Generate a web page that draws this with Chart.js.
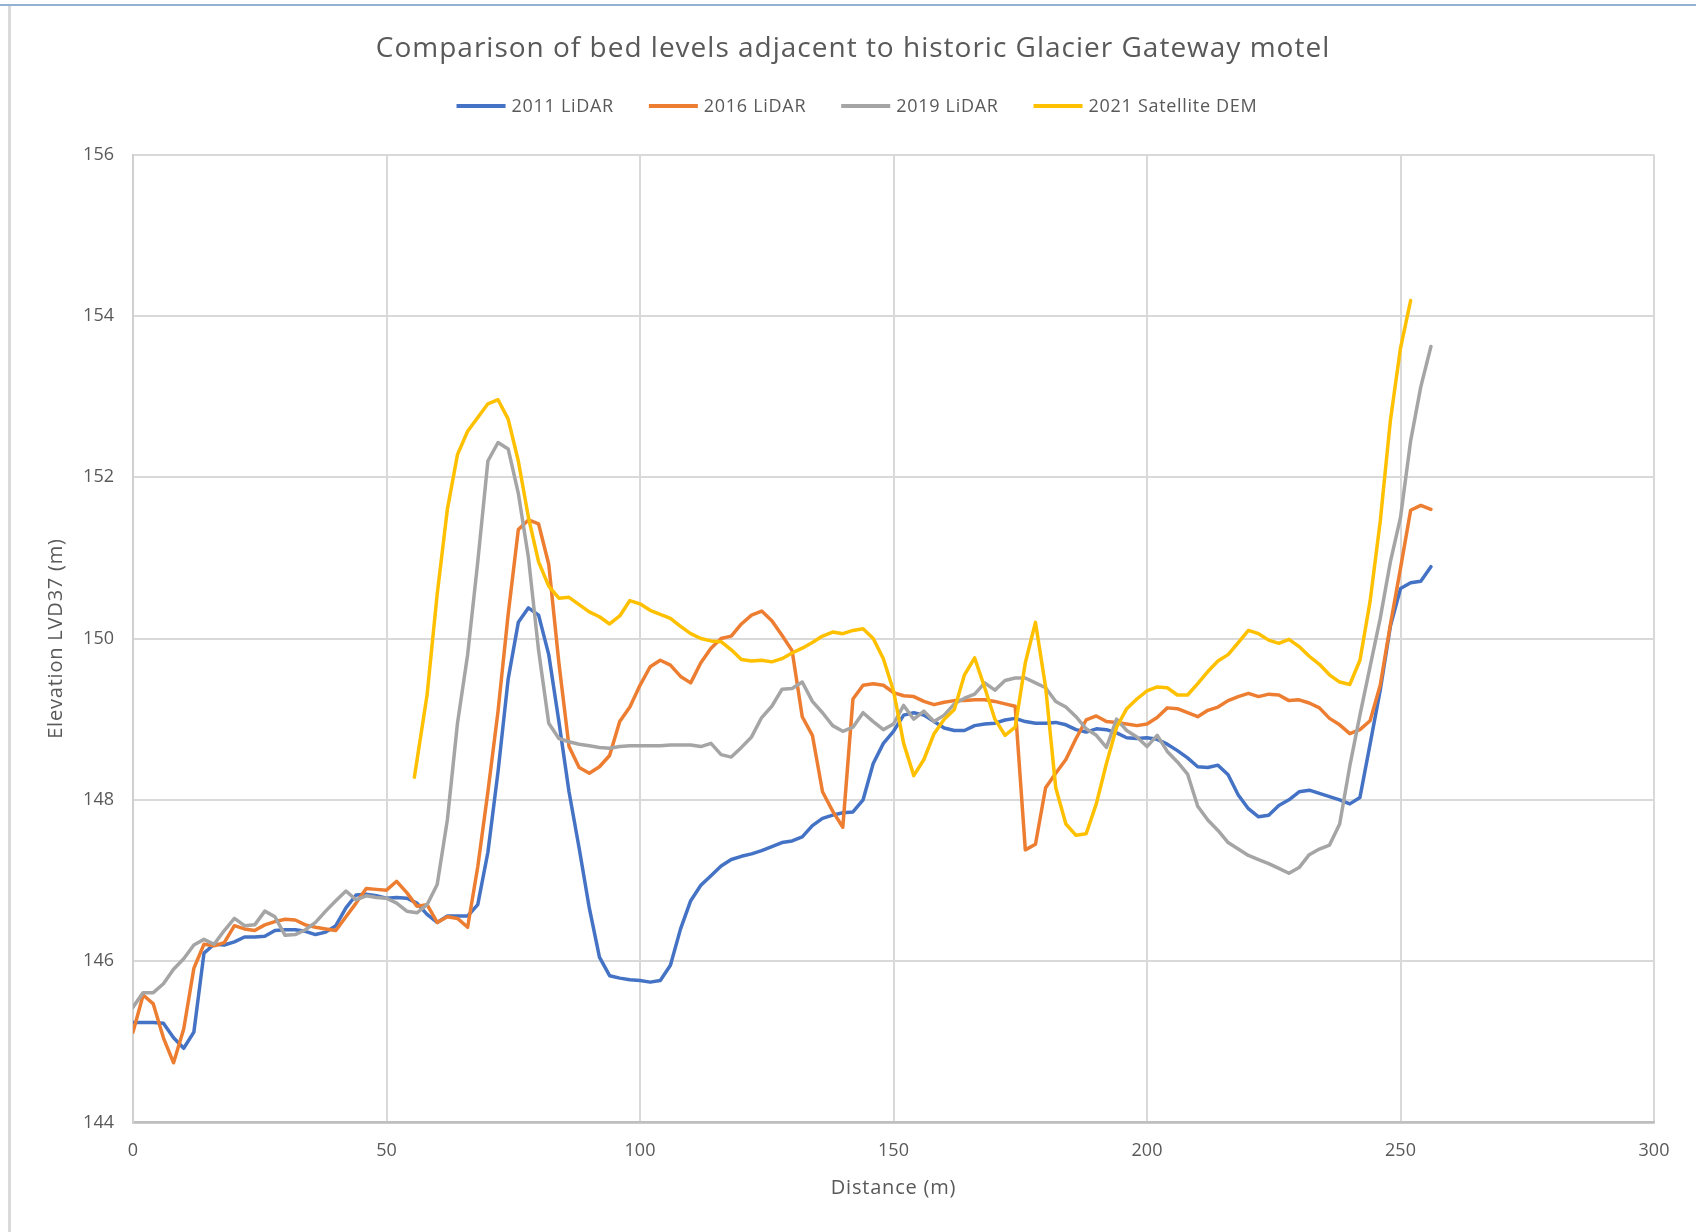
<!DOCTYPE html>
<html>
<head>
<meta charset="utf-8">
<title>Bed levels – Glacier Gateway motel</title>
<script src="https://cdn.jsdelivr.net/npm/chart.js@4.4.1/dist/chart.umd.min.js"></script>
<style>
  html, body { margin: 0; padding: 0; background: #ffffff; }
  body { width: 1696px; height: 1232px; position: relative; overflow: hidden; }
  #chart { position: absolute; left: 0; top: 0; }
  .frame-top { position: absolute; left: 0; top: 4px; width: 1696px; height: 2px; background: #93b1d2; }
  .frame-left { position: absolute; left: 8px; top: 6px; width: 3px; height: 1226px; background: #dadada; }
</style>
</head>
<body>
<canvas id="chart" width="1696" height="1232"></canvas>
<div class="frame-top"></div>
<div class="frame-left"></div>
<script>
// Chainage along the surveyed cross-section (m)
const lidarDistance = [
  0, 2, 4, 6, 8, 10, 12, 14, 16, 18, 20, 22, 24, 26, 28, 30, 32, 34, 36, 38,
  40, 42, 44, 46, 48, 50, 52, 54, 56, 58, 60, 62, 64, 66, 68, 70, 72, 74, 76, 78,
  80, 82, 84, 86, 88, 90, 92, 94, 96, 98, 100, 102, 104, 106, 108, 110, 112, 114, 116, 118,
  120, 122, 124, 126, 128, 130, 132, 134, 136, 138, 140, 142, 144, 146, 148, 150, 152, 154, 156, 158,
  160, 162, 164, 166, 168, 170, 172, 174, 176, 178, 180, 182, 184, 186, 188, 190, 192, 194, 196, 198,
  200, 202, 204, 206, 208, 210, 212, 214, 216, 218, 220, 222, 224, 226, 228, 230, 232, 234, 236, 238,
  240, 242, 244, 246, 248, 250, 252, 254, 256
];

const demDistance = [
  55.5, 58, 60, 62, 64, 66, 68, 70, 72, 74, 76, 78,
  80, 82, 84, 86, 88, 90, 92, 94, 96, 98, 100, 102, 104, 106, 108, 110, 112, 114, 116, 118,
  120, 122, 124, 126, 128, 130, 132, 134, 136, 138, 140, 142, 144, 146, 148, 150, 152, 154, 156, 158,
  160, 162, 164, 166, 168, 170, 172, 174, 176, 178, 180, 182, 184, 186, 188, 190, 192, 194, 196, 198,
  200, 202, 204, 206, 208, 210, 212, 214, 216, 218, 220, 222, 224, 226, 228, 230, 232, 234, 236, 238,
  240, 242, 244, 246, 248, 250, 252
];

// Bed elevation, LVD37 (m)
const lidar2011 = [
  145.24, 145.24, 145.24, 145.23, 145.05, 144.92, 145.12, 146.10, 146.21, 146.20,
  146.24, 146.30, 146.30, 146.31, 146.38, 146.39, 146.39, 146.37, 146.33, 146.36,
  146.44, 146.66, 146.82, 146.83, 146.81, 146.78, 146.79, 146.78, 146.72, 146.58,
  146.48, 146.56, 146.56, 146.56, 146.70, 147.35, 148.35, 149.50, 150.20, 150.38,
  150.29, 149.80, 148.97, 148.10, 147.40, 146.66, 146.05, 145.82, 145.79, 145.77,
  145.76, 145.74, 145.76, 145.95, 146.40, 146.75, 146.94, 147.06, 147.18, 147.26,
  147.30, 147.33, 147.37, 147.42, 147.47, 147.49, 147.54, 147.68, 147.77, 147.81,
  147.84, 147.85, 148.00, 148.45, 148.70, 148.85, 149.05, 149.08, 149.05, 148.97,
  148.89, 148.86, 148.86, 148.92, 148.94, 148.95, 148.99, 149.01, 148.97, 148.95,
  148.95, 148.96, 148.93, 148.87, 148.84, 148.88, 148.87, 148.83, 148.77, 148.76,
  148.77, 148.75, 148.69, 148.61, 148.52, 148.41, 148.40, 148.43, 148.31, 148.06,
  147.89, 147.79, 147.81, 147.93, 148.00, 148.10, 148.12, 148.08, 148.04, 148.00,
  147.95, 148.03, 148.69, 149.36, 150.15, 150.62, 150.69, 150.71, 150.89
];

const lidar2016 = [
  145.12, 145.58, 145.47, 145.05, 144.74, 145.16, 145.91, 146.21, 146.19, 146.23,
  146.44, 146.40, 146.38, 146.45, 146.49, 146.52, 146.51, 146.45, 146.42, 146.40,
  146.38, 146.55, 146.72, 146.90, 146.89, 146.88, 146.99, 146.85, 146.68, 146.70,
  146.48, 146.55, 146.53, 146.42, 147.17, 148.10, 149.10, 150.30, 151.35, 151.47,
  151.42, 150.92, 149.70, 148.66, 148.40, 148.33, 148.41, 148.55, 148.97, 149.15,
  149.42, 149.65, 149.73, 149.67, 149.53, 149.45, 149.70, 149.88, 150.00, 150.03,
  150.18, 150.29, 150.34, 150.22, 150.04, 149.85, 149.03, 148.80, 148.10, 147.86,
  147.66, 149.25, 149.42, 149.44, 149.42, 149.33, 149.29, 149.28, 149.22, 149.18,
  149.21, 149.23, 149.23, 149.24, 149.24, 149.22, 149.19, 149.16, 147.38, 147.45,
  148.15, 148.33, 148.50, 148.76, 148.99, 149.04, 148.97, 148.96, 148.94, 148.92,
  148.94, 149.02, 149.14, 149.13, 149.08, 149.03, 149.11, 149.15, 149.23, 149.28,
  149.32, 149.28, 149.31, 149.30, 149.23, 149.24, 149.20, 149.14, 149.01, 148.93,
  148.82, 148.87, 148.98, 149.42, 150.17, 150.87, 151.59, 151.65, 151.60
];

const lidar2019 = [
  145.43, 145.61, 145.61, 145.72, 145.90, 146.03, 146.20, 146.27, 146.21, 146.38,
  146.53, 146.44, 146.45, 146.62, 146.55, 146.32, 146.33, 146.39, 146.48, 146.62,
  146.75, 146.87, 146.76, 146.81, 146.79, 146.78, 146.72, 146.62, 146.60, 146.70,
  146.95, 147.75, 148.95, 149.80, 150.95, 152.20, 152.43, 152.35, 151.80, 151.00,
  149.85, 148.95, 148.76, 148.72, 148.69, 148.67, 148.65, 148.64, 148.66, 148.67,
  148.67, 148.67, 148.67, 148.68, 148.68, 148.68, 148.66, 148.70, 148.56, 148.53,
  148.65, 148.78, 149.02, 149.16, 149.37, 149.38, 149.46, 149.22, 149.08, 148.92,
  148.85, 148.90, 149.08, 148.97, 148.87, 148.94, 149.17, 149.00, 149.10, 148.97,
  149.05, 149.19, 149.26, 149.31, 149.45, 149.36, 149.48, 149.51, 149.51, 149.45,
  149.39, 149.22, 149.15, 149.03, 148.88, 148.80, 148.65, 149.00, 148.86, 148.78,
  148.66, 148.80, 148.60, 148.47, 148.32, 147.92, 147.75, 147.62, 147.47, 147.39,
  147.31, 147.26, 147.21, 147.15, 147.09, 147.16, 147.32, 147.39, 147.44, 147.70,
  148.42, 149.05, 149.65, 150.25, 150.95, 151.50, 152.45, 153.12, 153.62
];

const dem2021 = [
  148.28, 149.30, 150.55, 151.60, 152.28, 152.57, 152.74, 152.91, 152.96, 152.72,
  152.20, 151.50, 150.95, 150.65, 150.50, 150.51, 150.42, 150.33, 150.27, 150.18,
  150.28, 150.47, 150.43, 150.35, 150.30, 150.25, 150.15, 150.06, 150.00, 149.97,
  149.96, 149.86, 149.74, 149.72, 149.73, 149.71, 149.75, 149.82, 149.88, 149.95,
  150.03, 150.08, 150.06, 150.10, 150.12, 150.00, 149.75, 149.35, 148.70, 148.30,
  148.50, 148.82, 149.00, 149.12, 149.55, 149.76, 149.39, 149.00, 148.80, 148.90,
  149.70, 150.20, 149.40, 148.15, 147.70, 147.56, 147.58, 147.95, 148.45, 148.90,
  149.13, 149.25, 149.35, 149.40, 149.39, 149.30, 149.30, 149.44, 149.59, 149.72,
  149.80, 149.95, 150.10, 150.06, 149.98, 149.94, 149.99, 149.90, 149.78, 149.68,
  149.55, 149.46, 149.43, 149.73, 150.46, 151.45, 152.70, 153.60, 154.19
];

const seriesNames = ['2011 LiDAR', '2016 LiDAR', '2019 LiDAR', '2021 Satellite DEM'];
const seriesColors = ['#4472c4', '#ed7d31', '#a5a5a5', '#ffc000'];

const xTicks = [0, 50, 100, 150, 200, 250, 300];
const yTicks = [144, 146, 148, 150, 152, 154, 156];

const chartTitle = 'Comparison of bed levels adjacent to historic Glacier Gateway motel';
const xTitle = 'Distance (m)';
const yTitle = 'Elevation LVD37 (m)';

const TEXT = '#595959';
const FONT = '"Open Sans", "DejaVu Sans", sans-serif';

function pairs(xs, ys) {
  return xs.map((x, i) => ({ x: x, y: ys[i] }));
}

const seriesData = [
  pairs(lidarDistance, lidar2011),
  pairs(lidarDistance, lidar2016),
  pairs(lidarDistance, lidar2019),
  pairs(demDistance, dem2021)
];

const datasets = seriesNames.map((name, i) => ({
  label: name,
  data: seriesData[i],
  borderColor: seriesColors[i],
  backgroundColor: seriesColors[i],
  borderWidth: 3.5,
  pointRadius: 0,
  pointHoverRadius: 0,
  tension: 0,
  borderJoinStyle: 'round',
  borderCapStyle: 'round',
  // later series are painted over earlier ones
  order: seriesNames.length - i
}));

// Title, legend and axis titles drawn at fixed positions around the plot
const chartTexts = {
  id: 'chartTexts',
  afterDraw(chart) {
    const ctx = chart.ctx;
    const area = chart.chartArea;
    ctx.save();
    ctx.fillStyle = TEXT;
    ctx.textBaseline = 'middle';

    // chart title
    ctx.font = '28px ' + FONT;
    ctx.letterSpacing = '1px';
    ctx.textAlign = 'center';
    ctx.fillText(chartTitle, 853, 49);

    // legend
    ctx.font = '18px ' + FONT;
    ctx.letterSpacing = '0.7px';
    ctx.textAlign = 'left';
    const sample = 49, gapText = 6, gapItem = 35, legendY = 106;
    const widths = chart.data.datasets.map(d => ctx.measureText(d.label).width);
    let total = 0;
    widths.forEach((w, i) => { total += sample + gapText + w + (i < widths.length - 1 ? gapItem : 0); });
    let x = 857 - total / 2;
    chart.data.datasets.forEach((d, i) => {
      ctx.fillStyle = d.borderColor;
      ctx.fillRect(x, legendY - 2, sample, 4);
      x += sample + gapText;
      ctx.fillStyle = TEXT;
      ctx.fillText(d.label, x, legendY + 1);
      x += widths[i] + gapItem;
    });

    // axis titles
    ctx.font = '20px ' + FONT;
    ctx.letterSpacing = '0.8px';
    ctx.textAlign = 'center';
    ctx.fillText(xTitle, (area.left + area.right) / 2, 1188);
    ctx.translate(56, (area.top + area.bottom) / 2);
    ctx.rotate(-Math.PI / 2);
    ctx.fillText(yTitle, 0, 0);
    ctx.restore();
  }
};

new Chart(document.getElementById('chart'), {
  type: 'line',
  data: { datasets: datasets },
  options: {
    responsive: false,
    animation: false,
    devicePixelRatio: 1,
    layout: { padding: { top: 154.5, left: 0, right: 42, bottom: 0 } },
    plugins: {
      legend: { display: false },
      title: { display: false },
      tooltip: { enabled: false }
    },
    scales: {
      x: {
        type: 'linear',
        min: xTicks[0],
        max: xTicks[xTicks.length - 1],
        afterFit(scale) { scale.height = 109.5; },
        afterBuildTicks(scale) { scale.ticks = xTicks.map(v => ({ value: v })); },
        ticks: { color: TEXT, font: { family: FONT, size: 18 }, padding: 18, maxRotation: 0 },
        grid: { color: '#d9d9d9', lineWidth: 2, drawTicks: false },
        border: { color: '#bfbfbf', width: 2.5 }
      },
      y: {
        type: 'linear',
        min: yTicks[0],
        max: yTicks[yTicks.length - 1],
        afterFit(scale) { scale.width = 133; },
        afterBuildTicks(scale) { scale.ticks = yTicks.map(v => ({ value: v })); },
        ticks: { color: TEXT, font: { family: FONT, size: 18 }, padding: 19 },
        grid: { color: '#d9d9d9', lineWidth: 2, drawTicks: false },
        border: { color: '#d0d0d0', width: 2 }
      }
    }
  },
  plugins: [chartTexts]
});
</script>
</body>
</html>
